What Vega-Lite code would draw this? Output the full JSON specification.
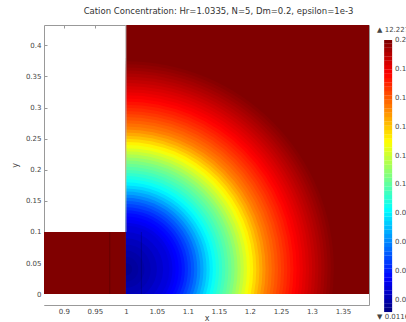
{
  "$schema": "https://vega.github.io/schema/vega-lite/v6.json",
  "width": 325,
  "height": 280,
  "autosize": {"type": "none"},
  "padding": {"left": 44, "top": 25, "right": 37, "bottom": 17},
  "title": {"text": "Cation Concentration: Hr=1.0335, N=5, Dm=0.2, epsilon=1e-3", "fontSize": 8.5, "fontWeight": "normal", "color": "#333", "anchor": "middle", "offset": 9, "dx": 12, "font": "DejaVu Sans"},
  "config": {
    "view": {"stroke": null},
    "font": "DejaVu Sans",
    "axis": {"zindex": 1, "domainColor": "#999", "tickColor": "#999", "labelColor": "#444", "labelFontSize": 7, "titleFontSize": 8, "titleFontWeight": "normal", "titleColor": "#444", "grid": false, "labelFont": "DejaVu Sans", "titleFont": "DejaVu Sans", "labelOverlap": false, "labelFlush": false}
  },
  "datasets": {
    "rings": [
      {"r": 0.65, "c": 0.2}, {"r": 0.34, "c": 0.2}, {"r": 0.335, "c": 0.1985}, {"r": 0.33, "c": 0.1968},
      {"r": 0.325, "c": 0.1952}, {"r": 0.32, "c": 0.1934}, {"r": 0.315, "c": 0.1915}, {"r": 0.31, "c": 0.1896},
      {"r": 0.305, "c": 0.1878}, {"r": 0.3, "c": 0.1858}, {"r": 0.295, "c": 0.1838}, {"r": 0.29, "c": 0.1818},
      {"r": 0.285, "c": 0.1798}, {"r": 0.28, "c": 0.1778}, {"r": 0.275, "c": 0.1758}, {"r": 0.27, "c": 0.1734},
      {"r": 0.265, "c": 0.171}, {"r": 0.26, "c": 0.1687}, {"r": 0.255, "c": 0.1663}, {"r": 0.25, "c": 0.1638},
      {"r": 0.245, "c": 0.1612}, {"r": 0.24, "c": 0.1585}, {"r": 0.235, "c": 0.1558}, {"r": 0.23, "c": 0.1532},
      {"r": 0.225, "c": 0.1493}, {"r": 0.22, "c": 0.1452}, {"r": 0.215, "c": 0.1411}, {"r": 0.21, "c": 0.1364},
      {"r": 0.205, "c": 0.1317}, {"r": 0.2, "c": 0.1272}, {"r": 0.195, "c": 0.1228}, {"r": 0.19, "c": 0.1185},
      {"r": 0.185, "c": 0.1141}, {"r": 0.18, "c": 0.1097}, {"r": 0.175, "c": 0.1054}, {"r": 0.17, "c": 0.1019},
      {"r": 0.165, "c": 0.0984}, {"r": 0.16, "c": 0.0949}, {"r": 0.155, "c": 0.0913}, {"r": 0.15, "c": 0.0877},
      {"r": 0.145, "c": 0.0841}, {"r": 0.14, "c": 0.0799}, {"r": 0.135, "c": 0.0752}, {"r": 0.13, "c": 0.0705},
      {"r": 0.125, "c": 0.0656}, {"r": 0.12, "c": 0.0606}, {"r": 0.115, "c": 0.0556}, {"r": 0.11, "c": 0.0512},
      {"r": 0.105, "c": 0.0474}, {"r": 0.1, "c": 0.0436}, {"r": 0.095, "c": 0.0399}, {"r": 0.09, "c": 0.037},
      {"r": 0.085, "c": 0.0352}, {"r": 0.08, "c": 0.0333}, {"r": 0.075, "c": 0.0304}, {"r": 0.07, "c": 0.0286},
      {"r": 0.06, "c": 0.0257}, {"r": 0.05, "c": 0.0229}, {"r": 0.04, "c": 0.021}, {"r": 0.03, "c": 0.0191},
      {"r": 0.02, "c": 0.0173}, {"r": 0.01, "c": 0.0154}
    ],
    "block": [{"x": 0.86, "x2": 1.0, "y": 0, "y2": 0.1, "c": 12.227}],
    "mesh": [{"x": 0.974, "y": 0, "y2": 0.1}, {"x": 1.025, "y": 0, "y2": 0.1}],
    "bar": [{"v": 0.2}, {"v": 0.18}, {"v": 0.16}, {"v": 0.14}, {"v": 0.12}, {"v": 0.1}, {"v": 0.08}, {"v": 0.06}, {"v": 0.04}, {"v": 0.02}],
    "cbar": [
      {"lo": 0.0116, "hi": 0.0147, "c": 0.0131}, {"lo": 0.0146, "hi": 0.0177, "c": 0.0161}, {"lo": 0.0176, "hi": 0.0207, "c": 0.0191},
      {"lo": 0.0206, "hi": 0.0237, "c": 0.0221}, {"lo": 0.0236, "hi": 0.0267, "c": 0.0251}, {"lo": 0.0266, "hi": 0.0297, "c": 0.0281},
      {"lo": 0.0296, "hi": 0.0327, "c": 0.0311}, {"lo": 0.0326, "hi": 0.0357, "c": 0.0341}, {"lo": 0.0356, "hi": 0.0387, "c": 0.0371},
      {"lo": 0.0386, "hi": 0.0417, "c": 0.0401}, {"lo": 0.0416, "hi": 0.0447, "c": 0.0431}, {"lo": 0.0446, "hi": 0.0477, "c": 0.0461},
      {"lo": 0.0476, "hi": 0.0507, "c": 0.0491}, {"lo": 0.0506, "hi": 0.0537, "c": 0.0521}, {"lo": 0.0536, "hi": 0.0567, "c": 0.0551},
      {"lo": 0.0566, "hi": 0.0597, "c": 0.0581}, {"lo": 0.0596, "hi": 0.0627, "c": 0.0611}, {"lo": 0.0626, "hi": 0.0657, "c": 0.0641},
      {"lo": 0.0656, "hi": 0.0687, "c": 0.0671}, {"lo": 0.0686, "hi": 0.0717, "c": 0.0701}, {"lo": 0.0716, "hi": 0.0747, "c": 0.0731},
      {"lo": 0.0746, "hi": 0.0777, "c": 0.0761}, {"lo": 0.0776, "hi": 0.0807, "c": 0.0791}, {"lo": 0.0806, "hi": 0.0837, "c": 0.0821},
      {"lo": 0.0836, "hi": 0.0867, "c": 0.0851}, {"lo": 0.0866, "hi": 0.0897, "c": 0.0881}, {"lo": 0.0896, "hi": 0.0927, "c": 0.0911},
      {"lo": 0.0926, "hi": 0.0957, "c": 0.0941}, {"lo": 0.0956, "hi": 0.0987, "c": 0.0971}, {"lo": 0.0986, "hi": 0.1017, "c": 0.1001},
      {"lo": 0.1016, "hi": 0.1047, "c": 0.1031}, {"lo": 0.1046, "hi": 0.1077, "c": 0.1061}, {"lo": 0.1076, "hi": 0.1107, "c": 0.1091},
      {"lo": 0.1106, "hi": 0.1137, "c": 0.1121}, {"lo": 0.1136, "hi": 0.1167, "c": 0.1151}, {"lo": 0.1166, "hi": 0.1197, "c": 0.1181},
      {"lo": 0.1196, "hi": 0.1227, "c": 0.1211}, {"lo": 0.1226, "hi": 0.1257, "c": 0.1241}, {"lo": 0.1256, "hi": 0.1287, "c": 0.1271},
      {"lo": 0.1286, "hi": 0.1317, "c": 0.1301}, {"lo": 0.1316, "hi": 0.1347, "c": 0.1331}, {"lo": 0.1346, "hi": 0.1377, "c": 0.1361},
      {"lo": 0.1376, "hi": 0.1407, "c": 0.1391}, {"lo": 0.1406, "hi": 0.1437, "c": 0.1421}, {"lo": 0.1436, "hi": 0.1467, "c": 0.1451},
      {"lo": 0.1466, "hi": 0.1497, "c": 0.1481}, {"lo": 0.1496, "hi": 0.1527, "c": 0.1511}, {"lo": 0.1526, "hi": 0.1557, "c": 0.1541},
      {"lo": 0.1556, "hi": 0.1587, "c": 0.1571}, {"lo": 0.1586, "hi": 0.1617, "c": 0.1601}, {"lo": 0.1616, "hi": 0.1647, "c": 0.1631},
      {"lo": 0.1646, "hi": 0.1677, "c": 0.1661}, {"lo": 0.1676, "hi": 0.1707, "c": 0.1691}, {"lo": 0.1706, "hi": 0.1737, "c": 0.1721},
      {"lo": 0.1736, "hi": 0.1767, "c": 0.1751}, {"lo": 0.1766, "hi": 0.1797, "c": 0.1781}, {"lo": 0.1796, "hi": 0.1827, "c": 0.1811},
      {"lo": 0.1826, "hi": 0.1857, "c": 0.1841}, {"lo": 0.1856, "hi": 0.1887, "c": 0.1871}, {"lo": 0.1886, "hi": 0.1917, "c": 0.1901},
      {"lo": 0.1916, "hi": 0.1947, "c": 0.1931}, {"lo": 0.1946, "hi": 0.1977, "c": 0.1961}, {"lo": 0.1976, "hi": 0.2, "c": 0.2}
    ]
  },
  "layer": [
    {
      "encoding": {
        "x": {"type": "quantitative", "scale": {"domain": [0.868, 1.392], "nice": false, "zero": false},
              "axis": {"orient": "bottom", "values": [0.9, 0.95, 1, 1.05, 1.1, 1.15, 1.2, 1.25, 1.3, 1.35], "format": ".2~f", "title": "x", "tickSize": -3, "labelPadding": 5, "titlePadding": 0, "labelOverlap": false, "labelSeparation": 0}},
        "y": {"type": "quantitative", "scale": {"domain": [-0.0175, 0.4327], "nice": false, "zero": false},
              "axis": {"orient": "left", "values": [0, 0.05, 0.1, 0.15, 0.2, 0.25, 0.3, 0.35, 0.4], "format": ".2~f", "title": "y", "tickSize": -3, "labelPadding": 6, "titlePadding": 6, "labelOverlap": false, "labelSeparation": 0}}
      },
      "layer": [
        {
          "data": {"name": "rings"},
          "mark": {"type": "arc", "clip": true, "theta": 0, "theta2": 3.14159, "strokeWidth": 0, "stroke": null},
          "encoding": {
            "x": {"datum": 1.0},
            "y": {"datum": 0.04},
            "radius": {"field": "r", "type": "quantitative", "stack": null, "scale": {"type": "linear", "domain": [0, 1], "range": [0, 621], "zero": true}},
            "color": {"field": "c", "type": "quantitative", "legend": null,
                      "scale": {"domain": [0.0116, 0.0352, 0.0823, 0.1294, 0.1765, 0.2], "range": ["#000080", "#0000ff", "#00ffff", "#ffff00", "#ff0000", "#800000"], "interpolate": "rgb", "clamp": true}}
          }
        },
        {
          "data": {"name": "block"},
          "mark": {"type": "rect", "clip": true, "color": "#800000"},
          "encoding": {"x": {"field": "x"}, "x2": {"field": "x2"}, "y": {"field": "y"}, "y2": {"field": "y2"}}
        },
        {
          "data": {"name": "mesh"},
          "mark": {"type": "rule", "color": "#000", "opacity": 0.18, "strokeWidth": 1.2},
          "encoding": {"x": {"field": "x"}, "y": {"field": "y"}, "y2": {"field": "y2"}}
        },
        {
          "data": {"values": [{}]},
          "mark": {"type": "rect", "clip": true, "color": "white"},
          "encoding": {"x": {"datum": 0.86}, "x2": {"datum": 1.4}, "y": {"datum": -0.03}, "y2": {"datum": 0}}
        },
        {
          "data": {"values": [{}]},
          "mark": {"type": "rule", "color": "#bbb", "strokeWidth": 1},
          "encoding": {"x": {"datum": 1.0}, "y": {"datum": 0.1}, "y2": {"datum": 0.4327}}
        }
      ]
    },
    {
      "encoding": {
        "x": {"type": "quantitative", "scale": {"domain": [0.868, 1.392], "nice": false, "zero": false},
              "axis": {"orient": "top", "values": [0.9, 0.95, 1, 1.05, 1.1, 1.15, 1.2, 1.25, 1.3, 1.35], "labels": false, "title": null, "tickSize": -3}},
        "y": {"type": "quantitative", "scale": {"domain": [0.01648, 0.21039], "nice": false, "zero": false},
              "axis": {"orient": "right", "labels": false, "ticks": false, "title": null}}
      },
      "layer": [
        {
          "data": {"name": "cbar"},
          "mark": {"type": "rect", "strokeWidth": 0},
          "encoding": {
            "x": {"datum": 1.4164},
            "x2": {"datum": 1.4293},
            "y": {"field": "lo"},
            "y2": {"field": "hi"},
            "color": {"field": "c", "type": "quantitative", "legend": null,
                      "scale": {"domain": [0.0116, 0.0352, 0.0823, 0.1294, 0.1765, 0.2], "range": ["#000080", "#0000ff", "#00ffff", "#ffff00", "#ff0000", "#800000"], "interpolate": "rgb", "clamp": true}}
          }
        },
        {
          "data": {"name": "bar"},
          "mark": {"type": "text", "align": "left", "baseline": "middle", "fontSize": 7, "color": "#444"},
          "encoding": {
            "x": {"datum": 1.4341},
            "y": {"field": "v"},
            "text": {"field": "v", "type": "quantitative", "format": ".2~f"}
          }
        },
        {
          "data": {"values": [{}]},
          "mark": {"type": "text", "align": "left", "baseline": "middle", "fontSize": 7, "color": "#444"},
          "encoding": {"x": {"datum": 1.405}, "y": {"datum": 0.2069}, "text": {"value": "▲ 12.227"}}
        },
        {
          "data": {"values": [{}]},
          "mark": {"type": "text", "align": "left", "baseline": "middle", "fontSize": 7, "color": "#444"},
          "encoding": {"x": {"datum": 1.405}, "y": {"datum": 0.0082}, "text": {"value": "▼ 0.0116"}}
        }
      ]
    }
  ],
  "resolve": {"scale": {"y": "independent", "color": "independent"}, "axis": {"x": "independent", "y": "independent"}}
}
